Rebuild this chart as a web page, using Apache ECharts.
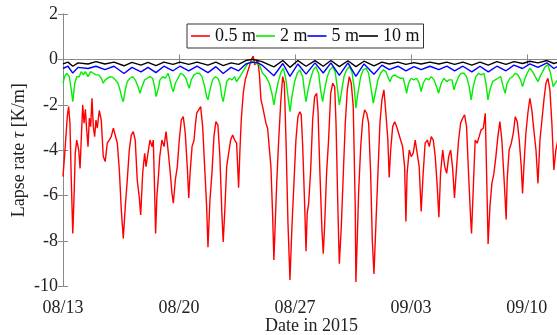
<!DOCTYPE html>
<html>
<head>
<meta charset="utf-8">
<script src="https://cdn.jsdelivr.net/npm/echarts@6/dist/echarts.min.js"></script>
<style>html,body{margin:0;padding:0;background:#fff;}#c{width:557px;height:335px;}</style>
</head>
<body>
<div id="c"></div>
<script>
// time axis: days since 2015-08-13 00:00
const xTickDays = [0, 7, 14, 21, 28];
const xTickLabels = ['08/13', '08/20', '08/27', '09/03', '09/10'];
const seriesNames = ['0.5 m', '2 m', '5 m', '10 m'];

const tau05 = [[0,-5.16],[0.12,-4.0],[0.26,-2.5],[0.34,-2.08],[0.42,-2.81],[0.50,-5.3],[0.59,-7.66],[0.66,-6.2],[0.74,-4.13],[0.83,-3.55],[0.95,-4.0],[1.03,-4.8],[1.10,-3.55],[1.19,-2.0],[1.27,-2.81],[1.35,-2.2],[1.43,-3.1],[1.51,-3.84],[1.59,-2.59],[1.67,-2.96],[1.75,-1.71],[1.83,-2.96],[1.91,-3.4],[1.99,-2.67],[2.07,-3.03],[2.19,-2.25],[2.31,-2.67],[2.43,-4.28],[2.55,-4.5],[2.67,-3.69],[2.79,-3.55],[2.91,-3.4],[3.04,-3.03],[3.16,-3.1],[3.28,-3.69],[3.40,-4.87],[3.52,-6.63],[3.64,-7.88],[3.76,-6.48],[3.88,-5.31],[4.00,-4.0],[4.12,-3.33],[4.24,-3.18],[4.36,-3.55],[4.48,-5.31],[4.60,-6.04],[4.69,-6.85],[4.81,-5.0],[4.93,-4.13],[5.01,-4.72],[5.13,-4.13],[5.25,-3.55],[5.37,-3.84],[5.45,-3.55],[5.52,-5.5],[5.59,-7.66],[5.67,-6.0],[5.73,-5.45],[5.84,-4.28],[5.97,-3.55],[6.10,-3.84],[6.22,-3.18],[6.34,-3.99],[6.46,-4.87],[6.58,-5.9],[6.66,-6.33],[6.78,-5.31],[6.90,-4.72],[7.02,-3.55],[7.14,-2.67],[7.26,-2.52],[7.38,-3.25],[7.50,-4.72],[7.59,-6.1],[7.67,-5.02],[7.79,-3.84],[7.91,-3.55],[7.98,-2.96],[8.07,-2.37],[8.19,-2.3],[8.31,-2.08],[8.43,-2.96],[8.55,-4.72],[8.67,-6.48],[8.75,-8.27],[8.87,-6.19],[8.99,-5.02],[9.11,-3.4],[9.23,-2.74],[9.35,-2.89],[9.47,-4.28],[9.59,-6.78],[9.67,-8.04],[9.76,-6.78],[9.88,-4.72],[10.00,-4.13],[10.12,-3.55],[10.24,-3.33],[10.36,-3.55],[10.48,-3.69],[10.60,-5.65],[10.68,-4.0],[10.76,-2.67],[10.88,-1.49],[11.00,-0.9],[11.12,-0.61],[11.24,-0.32],[11.36,-0.02],[11.48,0.15],[11.57,-0.24],[11.65,-0.32],[11.75,-0.02],[11.85,-0.61],[11.95,-1.78],[12.05,-2.08],[12.15,-2.08],[12.25,-2.81],[12.35,-3.03],[12.45,-3.1],[12.55,-4.72],[12.65,-6.78],[12.73,-8.83],[12.81,-7.22],[12.90,-5.46],[13.02,-3.55],[13.14,-1.93],[13.26,-0.76],[13.36,-1.05],[13.46,-3.55],[13.58,-7.22],[13.70,-9.71],[13.82,-7.36],[13.94,-5.46],[14.06,-3.55],[14.18,-2.52],[14.30,-2.3],[14.38,-2.44],[14.47,-3.84],[14.59,-6.48],[14.67,-8.45],[14.74,-6.78],[14.83,-6.33],[14.95,-4.87],[15.07,-2.67],[15.19,-1.64],[15.31,-1.49],[15.39,-2.22],[15.51,-5.02],[15.63,-7.51],[15.71,-8.56],[15.79,-7.36],[15.91,-5.02],[16.03,-3.55],[16.16,-1.49],[16.28,-1.05],[16.40,-1.2],[16.48,-2.81],[16.60,-6.78],[16.68,-9.0],[16.80,-7.36],[16.92,-5.02],[17.04,-2.81],[17.16,-1.35],[17.28,-0.76],[17.40,-1.05],[17.52,-2.08],[17.64,-6.48],[17.68,-9.8],[17.76,-7.95],[17.85,-5.75],[17.97,-3.84],[18.09,-2.67],[18.21,-2.22],[18.33,-2.37],[18.45,-2.81],[18.57,-5.02],[18.67,-7.95],[18.77,-9.45],[18.89,-7.22],[19.01,-5.02],[19.13,-2.81],[19.25,-1.78],[19.37,-1.34],[19.49,-2.37],[19.61,-3.55],[19.69,-5.2],[19.78,-3.99],[19.90,-2.96],[20.02,-2.74],[20.14,-2.96],[20.26,-3.25],[20.38,-3.55],[20.50,-3.84],[20.62,-4.72],[20.70,-7.14],[20.77,-5.02],[20.90,-3.99],[21.02,-4.28],[21.14,-4.13],[21.26,-3.55],[21.38,-3.48],[21.50,-4.72],[21.62,-6.7],[21.74,-5.02],[21.86,-3.69],[21.99,-3.55],[22.11,-3.84],[22.23,-3.4],[22.35,-3.55],[22.47,-4.28],[22.59,-5.6],[22.69,-6.95],[22.79,-5.02],[22.92,-3.99],[23.04,-4.72],[23.16,-5.02],[23.28,-4.28],[23.40,-3.99],[23.52,-4.8],[23.63,-6.1],[23.76,-4.72],[23.88,-3.55],[24.00,-2.81],[24.12,-2.59],[24.24,-2.44],[24.36,-2.96],[24.48,-5.02],[24.60,-6.92],[24.66,-7.66],[24.80,-5.02],[24.88,-3.55],[25.00,-3.69],[25.12,-3.4],[25.24,-3.1],[25.37,-3.03],[25.49,-2.37],[25.57,-5.02],[25.66,-8.13],[25.77,-6.48],[25.89,-5.46],[26.01,-5.02],[26.13,-4.28],[26.25,-3.4],[26.37,-2.74],[26.49,-3.55],[26.57,-4.57],[26.66,-5.75],[26.75,-7.05],[26.81,-5.31],[26.93,-3.99],[27.06,-3.69],[27.18,-3.25],[27.30,-2.52],[27.42,-2.74],[27.54,-3.55],[27.66,-4.72],[27.74,-5.9],[27.82,-4.72],[27.94,-3.25],[28.06,-2.37],[28.18,-1.71],[28.30,-2.22],[28.42,-3.1],[28.55,-3.99],[28.67,-5.46],[28.79,-3.55],[28.91,-2.67],[29.03,-1.78],[29.15,-1.05],[29.27,-0.83],[29.39,-1.34],[29.51,-2.81],[29.63,-4.87],[29.75,-3.99],[29.87,-3.55]];

const tau2 = [[0,-1.05],[0.10,-0.76],[0.22,-0.61],[0.38,-0.76],[0.50,-1.34],[0.59,-1.86],[0.71,-1.05],[0.83,-0.76],[0.98,-0.76],[1.10,-0.54],[1.23,-0.68],[1.35,-0.54],[1.51,-0.76],[1.67,-0.54],[1.83,-0.61],[1.99,-0.68],[2.15,-0.68],[2.31,-0.83],[2.43,-1.05],[2.55,-0.9],[2.67,-0.83],[2.84,-0.76],[3.00,-0.79],[3.16,-0.9],[3.32,-1.05],[3.44,-1.34],[3.56,-1.71],[3.64,-1.86],[3.76,-1.34],[3.88,-0.98],[4.04,-0.83],[4.21,-0.76],[4.36,-0.9],[4.53,-1.2],[4.65,-1.49],[4.77,-1.2],[4.93,-0.9],[5.09,-0.83],[5.25,-0.76],[5.41,-0.83],[5.53,-1.2],[5.62,-1.64],[5.78,-1.2],[5.85,-0.9],[6.02,-0.76],[6.17,-0.83],[6.34,-0.61],[6.46,-0.9],[6.58,-1.27],[6.66,-1.42],[6.78,-1.05],[6.94,-0.83],[7.10,-0.61],[7.26,-0.68],[7.42,-0.83],[7.54,-1.12],[7.62,-1.27],[7.74,-0.9],[7.91,-0.68],[8.07,-0.61],[8.23,-0.61],[8.39,-0.76],[8.55,-1.2],[8.67,-1.64],[8.75,-1.78],[8.87,-1.34],[9.03,-0.9],[9.19,-0.76],[9.35,-0.83],[9.47,-1.05],[9.59,-1.64],[9.67,-1.86],[9.76,-1.49],[9.88,-0.98],[10.04,-0.83],[10.20,-0.9],[10.36,-0.76],[10.48,-0.98],[10.56,-1.05],[10.68,-0.76],[10.80,-0.61],[10.92,-0.46],[11.04,-0.32],[11.16,-0.17],[11.33,-0.17],[11.49,-0.1],[11.65,-0.17],[11.85,-0.24],[12.05,-0.61],[12.25,-0.76],[12.45,-1.05],[12.61,-1.49],[12.73,-2.0],[12.85,-1.49],[13.02,-0.9],[13.17,-0.54],[13.30,-0.39],[13.46,-0.9],[13.58,-1.64],[13.70,-2.3],[13.82,-1.64],[13.98,-0.98],[14.14,-0.61],[14.30,-0.46],[14.47,-0.76],[14.59,-1.49],[14.67,-1.86],[14.79,-1.34],[14.95,-0.83],[15.11,-0.46],[15.27,-0.32],[15.43,-0.61],[15.55,-1.34],[15.67,-1.86],[15.79,-1.34],[15.95,-0.76],[16.11,-0.46],[16.28,-0.32],[16.43,-0.54],[16.55,-1.2],[16.68,-2.0],[16.80,-1.49],[16.96,-0.76],[17.12,-0.46],[17.28,-0.32],[17.44,-0.54],[17.58,-1.25],[17.68,-2.15],[17.80,-1.49],[17.97,-0.76],[18.12,-0.46],[18.29,-0.39],[18.45,-0.61],[18.61,-1.34],[18.73,-1.93],[18.85,-1.49],[19.01,-0.9],[19.17,-0.61],[19.33,-0.46],[19.49,-0.54],[19.61,-0.76],[19.73,-0.98],[19.86,-0.76],[20.02,-0.68],[20.17,-0.76],[20.38,-0.83],[20.54,-0.83],[20.66,-1.2],[20.74,-1.49],[20.86,-1.05],[21.02,-0.83],[21.18,-0.9],[21.35,-0.83],[21.50,-1.05],[21.62,-1.42],[21.74,-1.05],[21.91,-0.83],[22.07,-0.9],[22.23,-0.76],[22.39,-0.9],[22.55,-1.2],[22.67,-1.49],[22.83,-1.05],[22.99,-0.83],[23.16,-0.98],[23.31,-0.9],[23.48,-0.9],[23.60,-1.34],[23.72,-1.05],[23.88,-0.76],[24.04,-0.61],[24.20,-0.61],[24.36,-0.76],[24.52,-1.2],[24.64,-1.78],[24.76,-1.2],[24.92,-0.76],[25.09,-0.61],[25.24,-0.68],[25.41,-0.61],[25.53,-1.05],[25.65,-1.78],[25.77,-1.34],[25.93,-0.98],[26.09,-0.9],[26.25,-0.83],[26.42,-0.76],[26.57,-1.2],[26.69,-1.49],[26.81,-1.05],[26.98,-0.83],[27.14,-0.76],[27.30,-0.61],[27.46,-0.68],[27.62,-0.9],[27.74,-1.2],[27.86,-0.9],[28.02,-0.61],[28.18,-0.39],[28.35,-0.54],[28.50,-0.76],[28.67,-0.98],[28.79,-0.76],[28.95,-0.54],[29.11,-0.32],[29.27,-0.24],[29.43,-0.61],[29.59,-1.2],[29.71,-1.05],[29.87,-0.9]];

const tau5 = [[0,-0.4],[0.30,-0.3],[0.59,-0.6],[0.91,-0.35],[1.51,-0.4],[1.99,-0.3],[2.53,-0.45],[3.08,-0.3],[3.68,-0.62],[4.16,-0.35],[4.71,-0.55],[5.13,-0.35],[5.61,-0.58],[6.09,-0.3],[6.64,-0.5],[7.06,-0.3],[7.59,-0.5],[8.09,-0.3],[8.75,-0.58],[9.23,-0.32],[9.67,-0.62],[10.14,-0.35],[10.60,-0.5],[11.04,-0.2],[11.41,-0.12],[11.77,-0.15],[12.01,-0.25],[12.73,-0.72],[13.27,-0.18],[13.70,-0.75],[14.18,-0.2],[14.67,-0.65],[15.21,-0.15],[15.71,-0.6],[16.17,-0.15],[16.68,-0.7],[17.20,-0.15],[17.68,-0.75],[18.17,-0.2],[18.77,-0.65],[19.25,-0.25],[19.69,-0.45],[20.22,-0.3],[20.70,-0.5],[21.18,-0.32],[21.62,-0.45],[22.15,-0.3],[22.69,-0.45],[23.17,-0.3],[23.64,-0.5],[24.14,-0.3],[24.68,-0.55],[25.17,-0.3],[25.67,-0.55],[26.19,-0.3],[26.74,-0.5],[27.22,-0.25],[27.74,-0.4],[28.18,-0.2],[28.67,-0.35],[29.21,-0.15],[29.63,-0.4],[29.87,-0.3]];

const tau10 = [[0,-0.2],[0.30,-0.12],[0.59,-0.3],[0.91,-0.15],[1.51,-0.2],[1.99,-0.1],[2.53,-0.2],[3.08,-0.12],[3.68,-0.28],[4.16,-0.13],[4.71,-0.25],[5.13,-0.13],[5.61,-0.27],[6.09,-0.12],[6.64,-0.22],[7.06,-0.12],[7.59,-0.22],[8.09,-0.12],[8.75,-0.25],[9.23,-0.12],[9.67,-0.27],[10.14,-0.15],[10.60,-0.22],[11.04,-0.05],[11.41,0.0],[11.77,-0.05],[12.01,-0.1],[12.73,-0.33],[13.27,-0.05],[13.70,-0.35],[14.18,-0.05],[14.67,-0.3],[15.21,-0.05],[15.71,-0.3],[16.17,-0.05],[16.68,-0.32],[17.20,-0.06],[17.68,-0.32],[18.17,-0.08],[18.77,-0.28],[19.25,-0.12],[19.69,-0.2],[20.22,-0.12],[20.70,-0.22],[21.18,-0.14],[21.62,-0.2],[22.15,-0.12],[22.69,-0.2],[23.17,-0.12],[23.64,-0.22],[24.14,-0.12],[24.68,-0.25],[25.17,-0.12],[25.67,-0.25],[26.19,-0.1],[26.74,-0.22],[27.22,-0.1],[27.74,-0.18],[28.18,-0.08],[28.67,-0.15],[29.21,-0.05],[29.63,-0.18],[29.87,-0.12]];

const FONT = 'Liberation Serif';
const axisGray = '#8a8a8a';
const colors = ['#ff0000', '#00ee00', '#0000ff', '#000000'];
const chart = echarts.init(document.getElementById('c'), null, {renderer: 'canvas'});
const xFmt = v => { const i = xTickDays.indexOf(v); return i >= 0 ? xTickLabels[i] : ''; };
const xBase = {
  type: 'value', min: 0, max: 30, interval: 7,
  axisLine: {show: true, lineStyle: {color: axisGray, width: 1}},
  axisTick: {show: true, inside: true, length: 5, lineStyle: {color: axisGray}},
  splitLine: {show: false}
};
const yBase = {
  type: 'value', min: -10, max: 2, interval: 2,
  axisLine: {show: true, lineStyle: {color: axisGray, width: 1}},
  axisTick: {show: true, inside: true, length: 5, lineStyle: {color: axisGray}},
  splitLine: {show: false}
};
const data = [tau05, tau2, tau5, tau10];
chart.setOption({
  animation: false,
  backgroundColor: '#fff',
  textStyle: {fontFamily: FONT},
  grid: {left: 63, top: 14, width: 497, height: 272.5, containLabel: false, outerBoundsMode: 'none'},
  legend: {
    left: 187, top: 24,
    data: seriesNames.map((n, i) => ({name: n, icon: 'rect', itemStyle: {color: colors[i]}})),
    orient: 'horizontal',
    itemWidth: 19, itemHeight: 1.6, itemGap: 0,
    padding: [3, 4, 3, 4],
    borderColor: '#333', borderWidth: 1, backgroundColor: '#fff',
    textStyle: {fontFamily: FONT, fontSize: 18, color: '#111', lineHeight: 18}
  },
  xAxis: [
    Object.assign({}, xBase, {
      position: 'bottom',
      name: 'Date in 2015', nameLocation: 'middle', nameGap: 31, nameMoveOverlap: false,
      nameTextStyle: {fontFamily: FONT, fontSize: 18, color: '#222'},
      axisLabel: {show: true, margin: 13, fontFamily: FONT, fontSize: 18, color: '#222', formatter: xFmt, showMaxLabel: false}
    }),
    Object.assign({}, xBase, {position: 'top', axisLabel: {show: false}})
  ],
  yAxis: [
    Object.assign({}, yBase, {
      position: 'left',
      name: 'Lapse rate {i|τ} [K/m]', nameLocation: 'middle', nameGap: 35, nameMoveOverlap: false,
      nameTextStyle: {fontFamily: FONT, fontSize: 18, color: '#222',
        rich: {i: {fontFamily: FONT, fontSize: 18, fontStyle: 'italic', color: '#222'}}},
      axisLabel: {show: true, margin: 5, fontFamily: FONT, fontSize: 18, color: '#222'}
    }),
    Object.assign({}, yBase, {position: 'right', axisLabel: {show: false}})
  ],
  series: seriesNames.map((n, i) => ({
    name: n, type: 'line', data: data[i], xAxisIndex: 0, yAxisIndex: 0,
    symbol: 'none', showSymbol: false, smooth: false,
    lineStyle: {color: colors[i], width: 1.4},
    itemStyle: {color: colors[i]},
    clip: true, z: 2 + i
  }))
});
</script>
</body>
</html>
